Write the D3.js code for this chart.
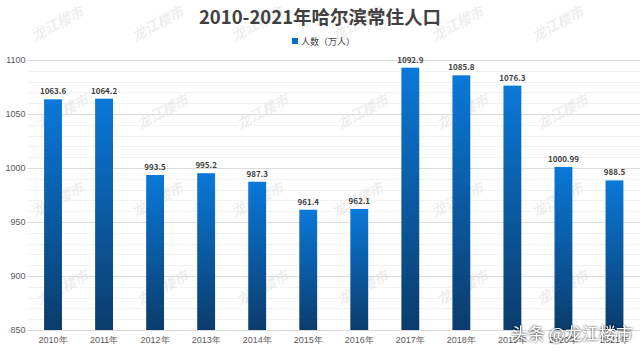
<!DOCTYPE html>
<html lang="zh">
<head>
<meta charset="UTF-8">
<script src="https://cdnjs.cloudflare.com/ajax/libs/d3/7.8.5/d3.min.js"></script>
<style>
  body { margin: 0; background: #fff; }
  svg { font-family: "Noto Sans CJK SC", "Noto Sans", sans-serif; }
  .tick text { fill: #595959; font-size: 9px; }
  .val { fill: #404040; font-size: 8px; font-weight: bold; text-anchor: middle; }
  .mark { fill: #e2e2e2; font-size: 14px; font-weight: bold; font-style: italic; opacity: 0.6; }
</style>
</head>
<body>
<svg width="640" height="351"></svg>
<script>
const years = ["2010年", "2011年", "2012年", "2013年", "2014年", "2015年",
               "2016年", "2017年", "2018年", "2019年", "2020年", "2021年"];
const population = [1063.6, 1064.2, 993.5, 995.2, 987.3, 961.4,
                    962.1, 1092.9, 1085.8, 1076.3, 1000.99, 988.5];
const valueLabels = ["1063.6", "1064.2", "993.5", "995.2", "987.3", "961.4",
                     "962.1", "1092.9", "1085.8", "1076.3", "1000.99", "988.5"];
const yTicks = [850, 900, 950, 1000, 1050, 1100];

const svg = d3.select("svg");
const margin = {top: 60, right: 0, bottom: 21, left: 27.5};
const W = 640, H = 351;

const x = d3.scaleBand().domain(years)
    .range([margin.left, W - margin.right]).paddingInner(0.65).paddingOuter(0.325);
const y = d3.scaleLinear().domain([850, 1100]).range([H - margin.bottom, margin.top]);

const defs = svg.append("defs");
const grad = defs.append("linearGradient").attr("id", "barGrad")
    .attr("x1", 0).attr("y1", 0).attr("x2", 0).attr("y2", 1);
grad.append("stop").attr("offset", "0%").attr("stop-color", "#0a79d9");
grad.append("stop").attr("offset", "100%").attr("stop-color", "#0b3c6c");

// minor gridlines
svg.append("g").selectAll("line")
    .data(d3.range(860, 1100, 10).filter(v => v % 50 !== 0))
    .join("line")
    .attr("x1", margin.left).attr("x2", W)
    .attr("y1", d => Math.round(y(d)) + 0.5).attr("y2", d => Math.round(y(d)) + 0.5)
    .attr("stroke", "#f2f2f2");

// major gridlines + y labels
const yAxis = svg.append("g")
    .attr("transform", `translate(${margin.left},0)`)
    .call(d3.axisLeft(y).tickValues(yTicks).tickFormat(d3.format("d"))
        .tickSize(-(W - margin.left)).tickPadding(6));
yAxis.select(".domain").remove();
yAxis.selectAll(".tick line").attr("stroke", "#dcdcdc");
yAxis.selectAll(".tick text").attr("text-anchor", "end").attr("x", -2);

// watermarks
const marks = [];
for (let r = 0; r < 4; r++) {
  for (let c = 0; c < 6; c++) {
    marks.push([60 + c * 100 + (r % 2) * 5, 28 + r * 88]);
  }
}
svg.append("g").selectAll("text").data(marks).join("text")
    .attr("class", "mark")
    .attr("text-anchor", "middle")
    .attr("transform", d => `translate(${d[0]},${d[1]}) rotate(-28)`)
    .text("龙江楼市");

// bars
svg.append("g").selectAll("rect").data(population).join("rect")
    .attr("x", (d, i) => x(years[i]))
    .attr("width", x.bandwidth())
    .attr("y", d => y(d))
    .attr("height", d => y(850) - y(d))
    .attr("fill", "url(#barGrad)");

svg.append("g").selectAll("text").data(population).join("text")
    .attr("class", "val")
    .attr("x", (d, i) => x(years[i]) + x.bandwidth() / 2)
    .attr("y", d => y(d) - 5)
    .text((d, i) => valueLabels[i]);

// x axis
const xAxis = svg.append("g")
    .attr("transform", `translate(0,${H - margin.bottom})`)
    .call(d3.axisBottom(x).tickSize(0).tickPadding(7));
xAxis.select(".domain").attr("stroke", "#d9d9d9");

// title + legend
svg.append("text").attr("x", 320).attr("y", 24)
    .attr("text-anchor", "middle").attr("fill", "#404040")
    .style("font-size", "18.5px").style("font-weight", "bold")
    .text("2010-2021年哈尔滨常住人口");
svg.append("rect").attr("x", 292).attr("y", 38).attr("width", 6).attr("height", 6)
    .attr("fill", "#0a6cc4");
svg.append("text").attr("x", 301).attr("y", 44.5)
    .attr("fill", "#404040").style("font-size", "9px")
    .text("人数（万人）");

// bottom-right stamp
svg.append("text").attr("x", 511).attr("y", 340)
    .attr("fill", "#fff")
    .style("font-size", "17px")
    .style("filter", "drop-shadow(0.5px 0.5px 0.8px rgba(0,0,0,0.9))")
    .text("头条 @龙江楼市");
</script>
</body>
</html>
